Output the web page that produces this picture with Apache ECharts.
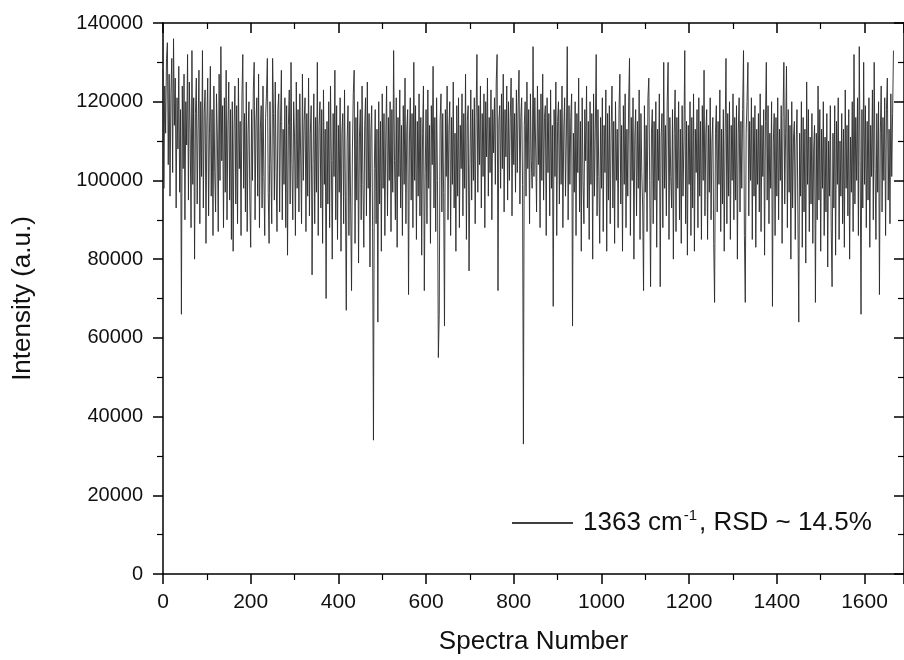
<!DOCTYPE html>
<html>
<head>
<meta charset="utf-8">
<script src="https://cdn.jsdelivr.net/npm/echarts@6/dist/echarts.min.js"></script>
<style>
  html, body { margin: 0; padding: 0; background: #fff; }
  #chart { width: 904px; height: 660px; }
</style>
</head>
<body>
<div id="chart"></div>
<script>
  // intensity in units of 1000 a.u., every 2nd spectrum
  let spectraStep = 2
  let intensityA = [
    128,98,124,112,131,135,104,127,96,122,131,102,136,114,126,93,121,108,129,97,
    118,66,124,103,127,90,120,109,132,95,125,112,88,133,99,121,80,117,126,94,
    113,128,89,120,101,133,93,117,123,84,115,126,91,112,129,96,118,86,124,102,
    92,122,111,87,127,100,134,105,119,88,121,97,128,90,114,125,95,118,85,120,
    82,113,124,94,119,89,126,103,115,86,121,132,98,117,92,125,87,112,120,95,
    83,118,100,123,130,90,115,121,96,127,88,113,119,93,124,101,86,116,122,131,
    97,84,120,104,89,131,117,95,125,102,87,118,122,92,115,128,90,113,99,121,
    88,119,81,114,123,94,130,104,90,120,111,86,125,98,118,92,122,106,89,127,
    100,115,121,87,117,96,126,91,112,119,76,104,122,89,116,97,130,86,114,120,
    93,118,84,123,99,113,70,115,94,120,88,124,105,80,117,101,128,90,119,85,
    114,97,121,82,112,117,89,123,96,67,110,119,86,115,93,72,108,122,128,84,
    116,95,120,79,111,118,90,124,99,83,114,121,91,125,98,117,78,112,119,88,
    34,103,118,89,113,64,120,94,115,82,122,98,117,86,111,124,91,116,100,120,
    87,118,97,133,105,90,121,83,116,101,123,93,114,86,119,99,126,89,113,118
  ]
  let intensityB = [
    71,110,121,95,117,88,130,100,119,85,115,96,122,91,116,81,112,124,72,102,
    118,89,123,98,114,84,119,104,129,93,116,87,121,100,55,66,115,122,92,117,
    97,63,118,101,124,90,113,120,86,116,99,125,93,112,82,119,96,121,88,114,
    103,122,91,117,98,127,85,115,119,77,104,123,95,118,100,121,89,116,132,97,
    119,104,124,93,117,101,122,88,120,106,126,96,116,102,123,90,118,107,121,99,
    125,132,72,115,119,98,122,103,127,92,118,106,124,95,120,100,116,126,91,121,
    104,117,97,123,102,119,128,94,116,121,99,33,114,120,96,125,103,118,89,122,
    105,98,134,101,121,108,92,124,104,118,88,122,100,127,95,116,119,86,121,102,
    117,91,123,98,114,68,118,101,125,86,115,120,94,118,99,124,88,113,121,96,
    111,134,90,119,99,116,122,63,112,97,120,86,117,102,126,92,115,82,121,100,
    89,118,105,124,93,115,85,120,99,117,80,122,96,113,132,91,118,101,84,116,
    98,121,87,114,102,123,82,117,95,119,89,112,124,93,115,84,120,100,113,88,
    118,127,94,114,82,119,99,122,88,113,96,120,131,86,116,100,121,80,111,118,
    91,115,98,123,85,117,102,93,72,119,97,114,87,121,126,100,73,112,118,89
  ]
  let intensityC = [
    115,95,120,83,113,100,122,73,111,117,88,130,98,114,91,120,130,85,116,101,
    93,118,80,112,123,87,116,98,120,90,113,84,119,96,110,133,89,115,81,114,
    99,120,86,116,93,122,82,113,102,118,88,121,96,115,85,119,100,128,91,112,
    118,85,114,97,121,90,110,116,84,69,112,119,92,115,99,123,87,113,94,118,
    82,111,131,89,117,96,120,85,114,100,122,90,116,95,119,80,112,121,92,115,
    98,118,133,86,69,112,120,130,91,115,100,121,85,116,96,119,83,113,99,117,
    92,122,87,114,101,118,81,115,130,95,119,89,112,98,120,68,110,117,86,116,
    96,121,90,113,100,119,84,116,130,94,112,129,88,118,97,114,80,120,93,111,
    115,85,109,118,91,64,112,96,120,83,116,92,113,79,125,99,118,87,111,94,
    117,84,108,114,69,112,90,124,95,118,82,113,98,120,86,111,92,117,78,110,
    96,119,88,73,112,93,119,81,115,99,121,85,110,96,117,89,113,83,123,98,
    114,91,118,80,111,97,120,87,132,94,116,100,121,86,134,105,66,118,93,130,
    99,119,88,115,95,121,83,114,101,123,90,130,103,85,117,97,120,71,112,124,
    92,116,100,121,86,118,126,95,113,89,122,101,117,133
  ]
  let xRange = [0, 1690]
  let yRange = [0, 140000]
  let seriesName = '1363 cm-1, RSD ~ 14.5%'

  let intensity = intensityA.concat(intensityB, intensityC)
  let points = intensity.map((v, i) => [i * spectraStep, v * 1000])

  let font = 'Arial, "Liberation Sans", sans-serif'
  let axisColor = '#000'
  let plain = v => String(v)

  let baseX = {
    type: 'value',
    min: xRange[0],
    max: xRange[1],
    interval: 200,
    splitLine: { show: false },
    axisLine: { show: true, onZero: false, lineStyle: { color: axisColor, width: 1.5 } },
    axisTick: { show: true, length: 10, lineStyle: { color: axisColor, width: 1.5 } },
    minorTick: { show: true, splitNumber: 2, length: 6, lineStyle: { color: axisColor, width: 1.2 } }
  }
  let baseY = {
    type: 'value',
    min: yRange[0],
    max: yRange[1],
    interval: 20000,
    splitLine: { show: false },
    axisLine: { show: true, onZero: false, lineStyle: { color: axisColor, width: 1.5 } },
    axisTick: { show: true, length: 10, lineStyle: { color: axisColor, width: 1.5 } },
    minorTick: { show: true, splitNumber: 2, length: 6, lineStyle: { color: axisColor, width: 1.2 } }
  }

  let chart = echarts.init(document.getElementById('chart'), null, { renderer: 'canvas' })
  chart.setOption({
    backgroundColor: '#fff',
    animation: false,
    grid: { left: 163, top: 23, width: 743, height: 552, containLabel: false },
    legend: {
      left: 507,
      top: 503,
      data: [seriesName],
      icon: 'rect',
      itemWidth: 61,
      itemHeight: 1.6,
      itemStyle: { color: '#000' },
      formatter: () => '{t|1363 cm}{s|-1}{t|, RSD ~ 14.5%}',
      textStyle: {
        color: '#111',
        fontFamily: font,
        fontSize: 26,
        padding: [0, 0, 0, 5],
        rich: {
          t: { fontSize: 26, fontFamily: font, color: '#111', lineHeight: 30 },
          s: { fontSize: 15, fontFamily: font, color: '#111', verticalAlign: 'top', lineHeight: 14, padding: [0, 2, 0, 1] }
        }
      }
    },
    xAxis: [
      Object.assign({}, baseX, {
        position: 'bottom',
        name: 'Spectra Number',
        nameLocation: 'middle',
        nameGap: 68,
        nameTextStyle: { color: '#111', fontFamily: font, fontSize: 26, verticalAlign: 'middle' },
        axisLabel: { color: '#111', fontFamily: font, fontSize: 21, margin: 18, showMaxLabel: false, formatter: plain }
      }),
      Object.assign({}, baseX, {
        position: 'top',
        axisTick: Object.assign({}, baseX.axisTick, { inside: true }),
        axisLabel: { show: false }
      })
    ],
    yAxis: [
      Object.assign({}, baseY, {
        position: 'left',
        name: 'Intensity (a.u.)',
        nameLocation: 'middle',
        nameGap: 140,
        nameTextStyle: { color: '#111', fontFamily: font, fontSize: 26, verticalAlign: 'middle' },
        axisLabel: { color: '#111', fontFamily: font, fontSize: 20, margin: 20, formatter: plain }
      }),
      Object.assign({}, baseY, {
        position: 'right',
        axisTick: Object.assign({}, baseY.axisTick, { inside: true }),
        axisLabel: { show: false }
      })
    ],
    series: [
      {
        name: seriesName,
        type: 'line',
        data: points,
        showSymbol: false,
        symbol: 'none',
        clip: true,
        lineStyle: { color: '#2a2a2a', width: 0.9 },
        itemStyle: { color: '#000' }
      }
    ]
  })
</script>
</body>
</html>
